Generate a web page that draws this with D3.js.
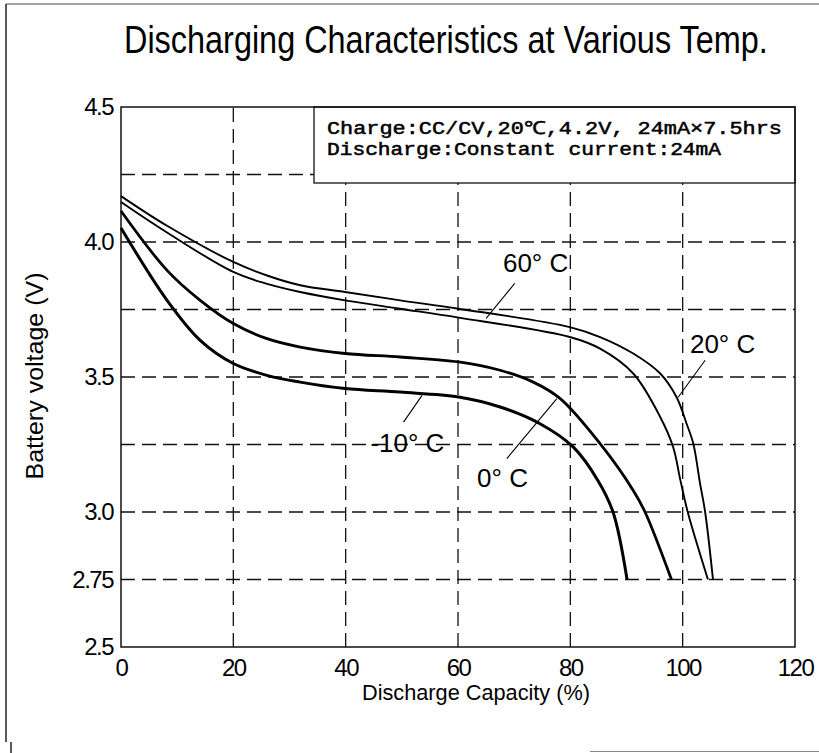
<!DOCTYPE html>
<html><head><meta charset="utf-8">
<script src="https://cdn.jsdelivr.net/npm/d3@7"></script>
<style>body{margin:0;background:#fff}svg{display:block}</style>
</head><body><svg id="c" width="819" height="753"></svg>
<script>
// ---- data ----
const xTickValues = [0, 20, 40, 60, 80, 100, 120];
const yTickValues = [4.5, 4.0, 3.5, 3.0, 2.75, 2.5];
const yTickLabels = ["4.5", "4.0", "3.5", "3.0", "2.75", "2.5"];
const yGridValues = [4.25, 4.0, 3.75, 3.5, 3.25, 3.0, 2.75];
const xGridValues = [20, 40, 60, 80, 100];

const cap20 = [0, 8.2, 20, 26, 31.9, 39.9, 49.7, 60.1, 79.9, 85.3, 91.2, 96.0, 98.9, 100.7, 101.9, 103.1, 104.0, 105.4];
const volt20 = [4.17, 4.06, 3.926, 3.876, 3.84, 3.815, 3.784, 3.753, 3.685, 3.648, 3.587, 3.513, 3.426, 3.327, 3.253, 3.105, 3.0, 2.75];
const cap60 = [0, 8.2, 20, 26, 31.9, 39.9, 49.7, 60.1, 79.9, 85.3, 91.2, 96.0, 98.3, 99.6, 100.9, 104.5];
const volt60 = [4.148, 4.035, 3.889, 3.845, 3.815, 3.784, 3.753, 3.72, 3.648, 3.605, 3.513, 3.352, 3.241, 3.117, 3.0, 2.75];
const cap0 = [0, 8.2, 14.1, 20, 26, 31.9, 39.9, 49.7, 60.1, 67.5, 73.4, 78.2, 85.3, 91.2, 93.3, 98.0];
const volt0 = [4.115, 3.895, 3.784, 3.698, 3.642, 3.611, 3.587, 3.574, 3.556, 3.525, 3.481, 3.42, 3.253, 3.08, 3.0, 2.75];
const capM10 = [0, 8.2, 14.1, 20, 26, 31.9, 39.9, 49.7, 60.1, 67.5, 74.6, 80.5, 84.9, 87.6, 90.1];
const voltM10 = [4.052, 3.784, 3.636, 3.55, 3.506, 3.481, 3.457, 3.444, 3.426, 3.389, 3.327, 3.241, 3.117, 3.0, 2.75];

const seriesNames = ["20° C", "60° C", "0° C", "-10° C"];
const seriesCaps = [cap20, cap60, cap0, capM10];
const seriesVolts = [volt20, volt60, volt0, voltM10];
const seriesWidths = [1.9, 1.9, 2.8, 3];

// annotation anchors in data units (capacity %, voltage V)
const labelCap = [101.3, 68.0, 63.4, 44.4];
const labelVolt = [3.589, 3.888, 3.093, 3.221];
const leaderCapA = [104.0, 70.1, 77.6, 53.6];
const leaderVoltA = [3.562, 3.847, 3.420, 3.432];
const leaderCapB = [99.2, 65.0, 68.7, 50.3];
const leaderVoltB = [3.425, 3.717, 3.198, 3.333];

const titleText = "Discharging Characteristics at Various Temp.";
const xTitle = "Discharge Capacity (%)";
const yTitle = "Battery voltage (V)";
const noteLines = ["Charge:CC/CV,20\u2103,4.2V, 24mA\u00d77.5hrs", "Discharge:Constant current:24mA"];

// ---- layout ----
const svg = d3.select("#c");
const L = 121, R = 795, T = 107, B = 647;
const x = d3.scaleLinear().domain([0, 120]).range([L, R]);
const y = d3.scaleLinear().domain([2.5, 4.5]).range([B, T]);
const sans = "'Liberation Sans', Arial, sans-serif";

// outer frame
svg.append("line").attr("x1", 6).attr("y1", 4).attr("x2", 6).attr("y2", 742).attr("stroke", "#222").attr("stroke-width", 1.5);
svg.append("line").attr("x1", 11).attr("y1", 742).attr("x2", 11).attr("y2", 753).attr("stroke", "#222").attr("stroke-width", 1.5);
svg.append("line").attr("x1", 6).attr("y1", 4).attr("x2", 819).attr("y2", 4).attr("stroke", "#444").attr("stroke-width", 1.2);
svg.append("line").attr("x1", 590).attr("y1", 751.5).attr("x2", 819).attr("y2", 751.5).attr("stroke", "#888").attr("stroke-width", 1.2);

// title (horizontally condensed via transform)
const tg = svg.append("g");
const tt = tg.append("text").attr("x", 0).attr("y", 0).attr("font-family", sans).attr("font-size", 38)
  .attr("fill", "#000").text(titleText);
const tw = tt.node().getComputedTextLength();
tg.attr("transform", `translate(124,53) scale(${644 / tw},1)`);

// grid
const grid = svg.append("g").attr("stroke", "#111").attr("stroke-width", 1.3).attr("stroke-dasharray", "14,7");
grid.selectAll("line.h").data(yGridValues).join("line").attr("class", "h")
  .attr("x1", L).attr("x2", R).attr("y1", d => y(d)).attr("y2", d => y(d));
grid.selectAll("line.v").data(xGridValues).join("line").attr("class", "v")
  .attr("x1", d => x(d)).attr("x2", d => x(d)).attr("y1", B).attr("y2", T);

// note box
const note = svg.append("g");
note.append("rect").attr("x", 314).attr("y", T).attr("width", R - 314).attr("height", 76)
  .attr("fill", "#fff").attr("stroke", "#111").attr("stroke-width", 1.3);
const noteLens = [455, 394];
note.selectAll("text").data(noteLines).join("text")
  .attr("x", 327).attr("y", (d, i) => 134 + i * 21)
  .attr("font-family", "'Liberation Mono', 'Courier New', monospace").attr("font-size", 18)
  .attr("fill", "#000").attr("stroke", "#000").attr("stroke-width", 0.5)
  .attr("textLength", (d, i) => noteLens[i]).attr("lengthAdjust", "spacingAndGlyphs")
  .text(d => d);

// plot border
svg.append("rect").attr("x", L).attr("y", T).attr("width", R - L).attr("height", B - T)
  .attr("fill", "none").attr("stroke", "#111").attr("stroke-width", 1.5);

// axes
const yAxis = svg.append("g").attr("transform", `translate(${L},0)`)
  .call(d3.axisLeft(y).tickValues(yTickValues).tickSize(0).tickPadding(8).tickFormat((d, i) => yTickLabels[i]));
const xAxis = svg.append("g").attr("transform", `translate(0,${B})`)
  .call(d3.axisBottom(x).tickValues(xTickValues).tickSize(0).tickPadding(12).tickFormat(d3.format("d")));
[yAxis, xAxis].forEach(a => {
  a.select(".domain").remove();
  a.selectAll("text").attr("font-family", sans).attr("font-size", 24).attr("fill", "#000").attr("letter-spacing", -1.5);
});

// axis titles
svg.append("text").attr("x", 476).attr("y", 700).attr("text-anchor", "middle").attr("font-family", sans)
  .attr("font-size", 22).attr("textLength", 228).attr("lengthAdjust", "spacingAndGlyphs").text(xTitle);
svg.append("text").attr("transform", "translate(43,376) rotate(-90)").attr("text-anchor", "middle").attr("font-family", sans)
  .attr("font-size", 23).attr("textLength", 207).attr("lengthAdjust", "spacingAndGlyphs").text(yTitle);

// curves
const line = d3.line().x(d => x(d[0])).y(d => y(d[1])).curve(d3.curveCatmullRom.alpha(0.5));
seriesNames.forEach((name, i) => {
  const pts = seriesCaps[i].map((c, j) => [c, seriesVolts[i][j]]);
  svg.append("path").datum(pts).attr("d", line).attr("fill", "none").attr("stroke", "#000")
    .attr("stroke-width", seriesWidths[i]).attr("stroke-linejoin", "round");
});

// labels and leaders
seriesNames.forEach((name, i) => {
  svg.append("line").attr("x1", x(leaderCapA[i])).attr("y1", y(leaderVoltA[i]))
    .attr("x2", x(leaderCapB[i])).attr("y2", y(leaderVoltB[i])).attr("stroke", "#000").attr("stroke-width", 1.1);
  svg.append("text").attr("x", x(labelCap[i])).attr("y", y(labelVolt[i])).attr("font-family", sans)
    .attr("font-size", 26).attr("fill", "#000").text(name);
});
</script></body></html>
